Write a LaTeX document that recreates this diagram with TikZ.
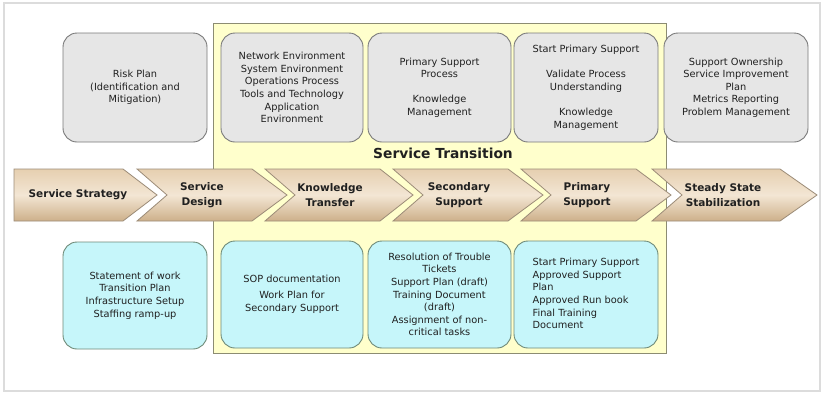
\documentclass[tikz,border=0pt]{standalone}
\usepackage{fontspec}
\setmainfont{DejaVu Sans}
\usetikzlibrary{shapes.misc}
\definecolor{txt}{HTML}{202020}
\definecolor{grayfill}{HTML}{E6E6E6}
\definecolor{grayline}{HTML}{7A7A7A}
\definecolor{cyanfill}{HTML}{C6F6FA}
\definecolor{cyanline}{HTML}{6F8A78}
\definecolor{yelfill}{HTML}{FFFFCC}
\definecolor{yelline}{HTML}{8C8C72}
\definecolor{chevline}{HTML}{9C8C78}
\definecolor{chevtop}{HTML}{E6CFB0}
\definecolor{chevmid}{HTML}{F3E6D4}
\definecolor{chevbot}{HTML}{CDB08A}
\definecolor{framecol}{HTML}{DCDCDC}
\tikzset{
  x=1pt, y=-1pt,
  boxtext/.style={font=\fontsize{9.8}{12.6}\selectfont, text=txt, align=center, inner sep=0pt},
  graybox/.style={boxtext, draw=grayline, fill=grayfill, line width=0.9pt, rounded corners=14pt, minimum height=109pt},
  cyanbox/.style={boxtext, draw=cyanline, fill=cyanfill, line width=0.9pt, rounded corners=14pt, minimum height=107pt},
  chevshape/.style={draw=chevline, line width=0.8pt, top color=chevtop, bottom color=chevbot, middle color=chevmid},
  chevtext/.style={font=\fontsize{10.5}{15}\selectfont\bfseries, text=txt, align=center, inner sep=0pt},
}
\newcommand{\chevron}[3]{%
  \path[chevshape] (#1,169) -- (#2,169) -- (#3,195) -- (#2,221) -- (#1,221) -- ({#1+30},195) -- cycle;}
\begin{document}
\begin{tikzpicture}
\useasboundingbox (0,0) rectangle (825,394);
\fill[white] (0,0) rectangle (825,394);
\draw[framecol, line width=1.5pt] (4,3) rectangle (820,391);

% Service Transition region
\draw[yelline, fill=yelfill, line width=0.8pt] (213,23) rectangle (666,353);
\node[font=\fontsize{13.8}{16}\selectfont\bfseries, text=txt, inner sep=0pt] (st) at (443,153) {Service Transition};

% top grey boxes
\node[graybox, minimum width=144pt] (risk) at (135,87.5) {Risk Plan\\(Identification and\\Mitigation)};
\node[graybox, minimum width=142pt] (env) at (292,87.5) {Network Environment\\System Environment\\Operations Process\\Tools and Technology\\Application\\Environment};
\node[graybox, minimum width=143pt] (psp) at (439.5,87.5) {Primary Support\\Process\\[12.6pt]Knowledge\\Management};
\node[graybox, minimum width=144pt] (sps) at (586,87.5) {Start Primary Support\\[12.6pt]Validate Process\\Understanding\\[12.6pt]Knowledge\\Management};
\node[graybox, minimum width=144pt] (own) at (736,87.5) {Support Ownership\\Service Improvement\\Plan\\Metrics Reporting\\Problem Management};

% chevrons
\path[chevshape] (14,169) -- (123,169) -- (157,195) -- (123,221) -- (14,221) -- cycle;
\chevron{137}{252}{287}
\chevron{265}{380}{413}
\chevron{393}{508}{543}
\chevron{521}{636}{671}
\chevron{652}{780}{817}
\node[chevtext] (c1) at (78,195) {Service Strategy};
\node[chevtext] (c2) at (202,195) {Service\\Design};
\node[chevtext] (c3) at (330,195) {Knowledge\\Transfer};
\node[chevtext] (c4) at (459,195) {Secondary\\Support};
\node[chevtext] (c5) at (587,195) {Primary\\Support};
\node[chevtext] (c6) at (723,195) {Steady State\\Stabilization};

% bottom cyan boxes
\node[cyanbox, minimum width=144pt] (sow) at (135,295.5) {Statement of work\\Transition Plan\\Infrastructure Setup\\Staffing ramp-up};
\node[cyanbox, minimum width=142pt] (sop) at (292,294.5) {SOP documentation\\[3.5pt]Work Plan for\\Secondary Support};
\node[cyanbox, minimum width=143pt] (res) at (439.5,294.5) {Resolution of Trouble\\Tickets\\Support Plan (draft)\\Training Document\\(draft)\\Assignment of non-\\critical tasks};
\node[cyanbox, minimum width=144pt, align=left] (fin) at (586,294.5) {Start Primary Support\\Approved Support\\Plan\\Approved Run book\\Final Training\\Document\phantom{p}};
\end{tikzpicture}
\end{document}
